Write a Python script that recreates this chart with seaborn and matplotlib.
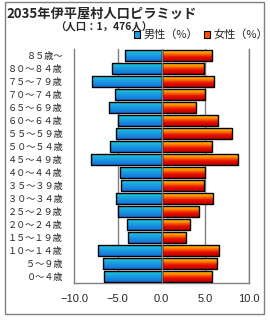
import numpy as np
import pandas as pd
import matplotlib
matplotlib.use("Agg")
import matplotlib.pyplot as plt
from matplotlib.colors import LinearSegmentedColormap
from matplotlib.patches import Patch, Rectangle
import seaborn as sns

ages = ["８５歳～", "８０～８４歳", "７５～７９歳", "７０～７４歳", "６５～６９歳", "６０～６４歳",
        "５５～５９歳", "５０～５４歳", "４５～４９歳", "４０～４４歳", "３５～３９歳", "３０～３４歳",
        "２５～２９歳", "２０～２４歳", "１５～１９歳", "１０～１４歳", "５～９歳", "０～４歳"]
male = [4.2, 5.7, 7.9, 5.3, 6.0, 5.0, 5.2, 5.9, 8.1, 4.7, 4.6, 5.2, 5.0, 4.0, 3.8, 7.3, 6.7, 6.6]
female = [5.8, 4.8, 6.0, 5.0, 3.9, 6.4, 8.1, 5.8, 8.7, 5.0, 4.9, 5.9, 4.3, 3.2, 2.8, 6.6, 6.3, 5.8]
xticks = [-10, -5, 0, 5, 10]
title = "2035年伊平屋村人口ピラミッド"
subtitle = "（人口：1，476人）"
legend_labels = ["男性（%）", "女性（%）"]

sns.set_style("white")
plt.rcParams['font.family'] = ['Noto Sans CJK JP', 'DejaVu Sans']

df = pd.DataFrame({"age": ages, "male": [-v for v in male], "female": female})

fig = plt.figure(figsize=(2.7, 3.2), dpi=100)
ax = fig.add_axes([74/270, 1-283/320, (249-74)/270, (283-49)/320])

sns.barplot(data=df, x="male", y="age", order=ages, orient="h", ax=ax, width=0.92,
            color="#1a9fe0", edgecolor="black", linewidth=1.0)
n_m = len(ax.patches)
sns.barplot(data=df, x="female", y="age", order=ages, orient="h", ax=ax, width=0.92,
            color="#ff7a00", edgecolor="black", linewidth=1.0)

cm_m = LinearSegmentedColormap.from_list("m", ["#22d0d8", "#1a9ee0", "#1470dc"])
cm_f = LinearSegmentedColormap.from_list("f", ["#ffe800", "#ff8a00", "#e81000", "#c00000"])
grad = np.linspace(0, 1, 64).reshape(-1, 1)

for i, p in enumerate(ax.patches):
    x0, y0 = p.get_x(), p.get_y()
    w, h = p.get_width(), p.get_height()
    cmap = cm_m if i < n_m else cm_f
    im = ax.imshow(grad, cmap=cmap, aspect="auto", origin="upper",
                   extent=(min(x0, x0+w), max(x0, x0+w), y0 + h, y0), zorder=2,
                   interpolation="bilinear")
    im.set_clip_path(p)
    p.set_facecolor("none")
    p.set_zorder(3)

ax.set_xlim(-10, 10)
ax.set_ylim(len(ages) - 0.5, -0.5)
ax.set_xticks(xticks)
ax.set_xticklabels([f"{v:.1f}".replace("-", "\u2212") for v in xticks], fontsize=8,
                   family=["Liberation Sans", "DejaVu Sans"])
ax.tick_params(axis="x", length=0, pad=8)
ax.tick_params(axis="y", length=0, pad=8, labelsize=6.6)
ax.set_xlabel("")
ax.set_ylabel("")
for v in [-5, 5, 10]:
    ax.axvline(v, color="#808080", lw=1.0, zorder=1)
ax.axvline(0, color="#808080", lw=1.0, zorder=5)
ax.spines["top"].set_visible(False)
for s in ["left", "bottom", "right"]:
    ax.spines[s].set_color("#808080")
    ax.spines[s].set_linewidth(1.0)

fig.text(6/270, 1-14/320, title, ha="left", va="center", fontsize=9.5, weight="bold")
fig.text(55/270, 1-27/320, subtitle, ha="left", va="center", fontsize=7.5, weight="bold")

handles = [Patch(facecolor="#1a9fe0", edgecolor="black", lw=0.8),
           Patch(facecolor="#ff5000", edgecolor="black", lw=0.8)]
fig.legend(handles, legend_labels, loc="center", bbox_to_anchor=(201/270, 1-35/320), ncol=2,
           frameon=False, fontsize=8, handlelength=0.6, handleheight=0.6,
           handletextpad=0.3, columnspacing=0.5, borderpad=0)

fig.patches.append(Rectangle((5/270, 1-314/320), (264-5)/270, (314-2)/320,
                             transform=fig.transFigure, fill=False, edgecolor="#808080", lw=1.0))

fig.savefig("out.png", dpi=100)
